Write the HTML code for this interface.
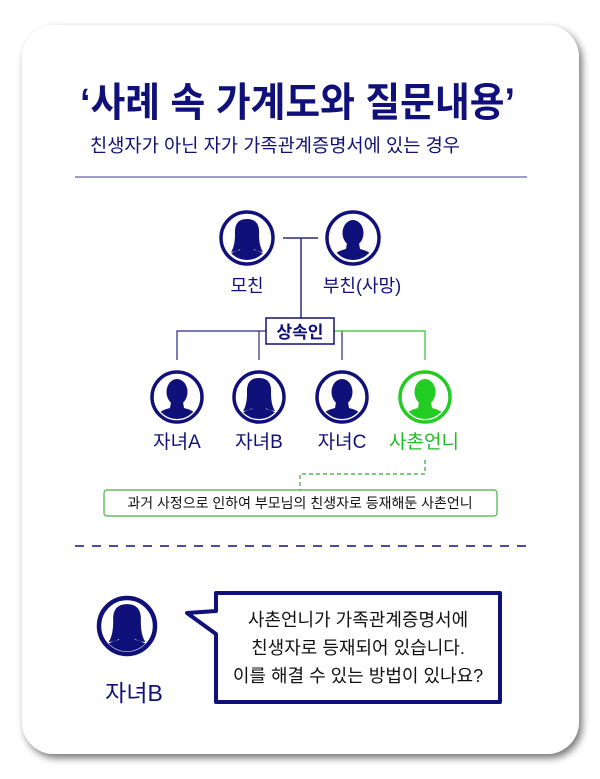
<!DOCTYPE html>
<html><head><meta charset="utf-8">
<style>
html,body{margin:0;padding:0;background:#fff;}
svg{display:block;}
text{font-family:"Liberation Sans","Noto Sans CJK KR",sans-serif;}
</style></head>
<body>
<svg width="600" height="779" viewBox="0 0 600 779" xmlns="http://www.w3.org/2000/svg">
<defs>
<filter id="sh" x="-10%" y="-10%" width="120%" height="120%">
<feGaussianBlur in="SourceAlpha" stdDeviation="4"/>
<feOffset dx="3" dy="4"/>
<feComponentTransfer><feFuncA type="linear" slope="0.55"/></feComponentTransfer>
<feMerge><feMergeNode/><feMergeNode in="SourceGraphic"/></feMerge>
</filter>
<clipPath id="c"><circle cx="0" cy="0" r="22"/></clipPath>
<g id="male">
<g clip-path="url(#c)">
<ellipse cx="0" cy="-5" rx="10.5" ry="13"/>
<path d="M-6,5 L6,5 L7,11 Q21,14 25,26 L-25,26 Q-21,14 -7,11 Z"/>
</g>
</g>
<g id="female">
<g clip-path="url(#c)">
<path d="M0,-19 Q-13,-19 -12,-4 Q-12,8 -16,14 Q-7,13 -5,9 L5,9 Q7,13 16,14 Q12,8 12,-4 Q13,-19 0,-19 Z"/>
<path d="M-6,7 L6,7 L7,12 Q21,15 25,26 L-25,26 Q-21,15 -7,12 Z"/>
</g>
</g>
</defs>
<rect x="22" y="25" width="557" height="729" rx="32" fill="#fff" filter="url(#sh)"/>

<text x="80" y="116" font-size="40" font-weight="bold" fill="#10107a" textLength="435" lengthAdjust="spacingAndGlyphs">‘사례 속 가계도와 질문내용’</text>
<text x="90" y="152" font-size="18.5" fill="#10107a" textLength="370" lengthAdjust="spacingAndGlyphs">친생자가 아닌 자가 가족관계증명서에 있는 경우</text>
<line x1="75" y1="177" x2="527" y2="177" stroke="#7a7ab4" stroke-width="1.5"/>

<!-- parents -->
<g fill="#10107a">
<circle cx="247" cy="238" r="26" fill="none" stroke="#10107a" stroke-width="3.5"/>
<use href="#female" x="247" y="238"/>
<circle cx="353" cy="238" r="26" fill="none" stroke="#10107a" stroke-width="3.5"/>
<use href="#male" x="353" y="238"/>
</g>
<line x1="283" y1="238" x2="318" y2="238" stroke="#2a2a80" stroke-width="1.5"/>
<line x1="301" y1="238" x2="301" y2="318" stroke="#2a2a80" stroke-width="1.5"/>
<text x="247" y="292" text-anchor="middle" font-size="18" fill="#10107a">모친</text>
<text x="362" y="292" text-anchor="middle" font-size="18" fill="#10107a">부친(사망)</text>

<!-- heirs line -->
<polyline points="177,360 177,331 266,331" fill="none" stroke="#2a2a80" stroke-width="1.2"/>
<line x1="259" y1="331" x2="259" y2="360" stroke="#2a2a80" stroke-width="1.2"/>
<line x1="342" y1="331" x2="342" y2="360" stroke="#2a2a80" stroke-width="1.2"/>
<polyline points="334,331 425,331 425,360" fill="none" stroke="#2ec42e" stroke-width="1.2"/>
<rect x="266" y="318" width="68" height="26" fill="#fff" stroke="#10107a" stroke-width="1.5"/>
<text x="300" y="338" text-anchor="middle" font-size="17" font-weight="bold" fill="#10107a">상속인</text>

<!-- children -->
<g fill="#10107a">
<circle cx="177" cy="397" r="25" fill="none" stroke="#10107a" stroke-width="3.5"/>
<use href="#male" x="177" y="397"/>
<circle cx="259" cy="397" r="25" fill="none" stroke="#10107a" stroke-width="3.5"/>
<use href="#female" x="259" y="397"/>
<circle cx="342" cy="397" r="25" fill="none" stroke="#10107a" stroke-width="3.5"/>
<use href="#male" x="342" y="397"/>
</g>
<g fill="#22cc22">
<circle cx="425" cy="397" r="25" fill="none" stroke="#22cc22" stroke-width="3.5"/>
<use href="#male" x="425" y="397"/>
</g>
<text x="177" y="448" text-anchor="middle" font-size="19" fill="#10107a">자녀A</text>
<text x="259" y="448" text-anchor="middle" font-size="19" fill="#10107a">자녀B</text>
<text x="342" y="448" text-anchor="middle" font-size="19" fill="#10107a">자녀C</text>
<text x="424" y="448" text-anchor="middle" font-size="19" fill="#22bb22">사촌언니</text>

<polyline points="425,460 425,474 300,474 300,490" fill="none" stroke="#33aa33" stroke-width="1.2" stroke-dasharray="4,3"/>
<rect x="104" y="490" width="393" height="26" rx="3" fill="#fff" stroke="#44b044" stroke-width="1.2"/>
<text x="300" y="508" text-anchor="middle" font-size="14" fill="#111">과거 사정으로 인하여 부모님의 친생자로 등재해둔 사촌언니</text>

<line x1="75" y1="546" x2="527" y2="546" stroke="#10107a" stroke-width="1.5" stroke-dasharray="9,8"/>

<!-- bottom -->
<g fill="#10107a">
<circle cx="127" cy="626" r="28" fill="none" stroke="#10107a" stroke-width="4.5"/>
<use href="#female" transform="translate(127 626) scale(1.15)"/>
</g>
<text x="134" y="701" text-anchor="middle" font-size="23" fill="#10107a">자녀B</text>

<path d="M216,593 L500,593 L500,702 L216,702 L216,634 L187,613 L216,611 Z" fill="#fff" stroke="#10107a" stroke-width="4" stroke-linejoin="round"/>
<text x="358" y="626" text-anchor="middle" font-size="18" fill="#111">사촌언니가 가족관계증명서에</text>
<text x="358" y="654" text-anchor="middle" font-size="18" fill="#111">친생자로 등재되어 있습니다.</text>
<text x="358" y="682" text-anchor="middle" font-size="18" fill="#111">이를 해결 수 있는 방법이 있나요?</text>
</svg>
</body></html>
